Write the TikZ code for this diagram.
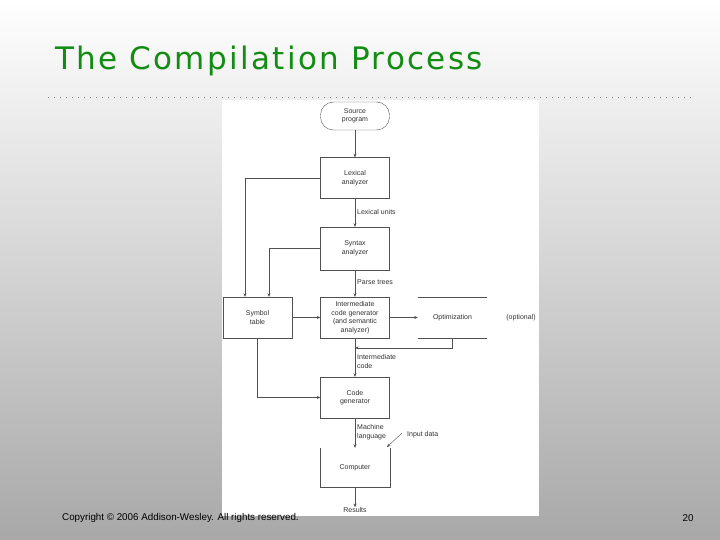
\documentclass[tikz,border=0pt]{standalone}
\usepackage{fontspec}
\setmainfont{Liberation Sans}
\newfontfamily\titlefont[LetterSpace=7.5]{DejaVu Sans}
\usetikzlibrary{calc, arrows.meta}
\definecolor{titlegreen}{RGB}{18,140,18}
\definecolor{bggray}{RGB}{168,168,168}
\definecolor{linegray}{RGB}{80,80,80}

\begin{document}
\begin{tikzpicture}[x=1pt, y=-1pt]
    \tikzstyle{stage} = [rectangle, draw=linegray, minimum width=69pt, minimum height=41pt, align=center, font=\fontsize{7}{8.5}\selectfont, text=black!80, inner sep=1pt]
    \tikzstyle{openstage} = [stage, draw=none]
    \tikzstyle{terminal} = [stage, rounded corners=13pt, minimum height=28pt]
    \tikzstyle{flow} = [draw=linegray, -{Stealth[length=3.5pt, width=3pt]}]
    \tikzstyle{tag} = [font=\fontsize{7}{8.5}\selectfont, text=black!80, align=left, inner sep=0pt]

    % Slide ----------------------------------------------
    \useasboundingbox (0,0) rectangle (720,540);
    \shade[top color=white, bottom color=bggray] (0,0) rectangle (720,540);
    \node (title) at (55,70) [anchor=base west, text=titlegreen, inner sep=0pt,
        font=\titlefont\fontsize{31}{36}\selectfont] {The Compilation Process};
    \draw[gray, line width=0.7pt, dash pattern=on 0.7pt off 5.3pt] (48,97) -- (693,97);
    \fill[white] (222,100) rectangle (539,516);
    % ---------------------------------------------------

    % Stages --------------------------------------------
    \node (src) at (355,116) [terminal] {Source\\program};
    \node (lex) at ($(src) + (0,62)$) [stage] {Lexical\\analyzer};
    \node (syn) at ($(lex) + (0,70.5)$) [stage, minimum height=43pt] {Syntax\\analyzer};
    \node (icg) at ($(syn) + (0,69)$) [stage] {Intermediate\\code generator\\(and semantic\\analyzer)};
    \node (sym) at ($(icg) + (-97.5,0)$) [stage] {Symbol\\table};
    \node (opt) at ($(icg) + (97.5,0)$) [openstage] {Optimization};
    \node (cg) at ($(icg) + (0,80)$) [stage] {Code\\generator};
    \node (comp) at ($(cg) + (0,70)$) [openstage, minimum height=39pt] {Computer};

    \draw[linegray] (opt.north west) -- (opt.north east);
    \draw[linegray] (opt.south west) -- (opt.south east);
    \draw[linegray] (comp.north west) -- (comp.south west) -- (comp.south east) -- (comp.north east);
    % ---------------------------------------------------

    % Labels --------------------------------------------
    \node (optional) at ($(opt) + (68.5,0)$) [tag] {(optional)};
    \node (results) at ($(comp) + (0,42.5)$) [tag] {Results};
    \node (lexunits) at ($(lex.south)!0.5!(syn.north) + (2,-1)$) [tag, anchor=west] {Lexical units};
    \node (ptrees) at ($(syn.south)!0.5!(icg.north) + (2,-1)$) [tag, anchor=west] {Parse trees};
    \node (icode) at ($(icg.south)!0.5!(cg.north) + (2,4)$) [tag, anchor=west] {Intermediate\\code};
    \node (mlang) at ($(cg.south)!0.5!(comp.north) + (2,-1)$) [tag, anchor=west] {Machine\\language};
    \node (input) at (407,435) [tag, anchor=west] {Input data};
    \coordinate (inputtail) at (402,433);
    \coordinate (inputhead) at (387,447);

    % Connectors
    \draw[flow] (src) -- (lex);
    \draw[flow] (lex) -- (syn);
    \draw[flow] (syn) -- (icg);
    \draw[flow] (icg) -- (cg);
    \draw[flow] (cg) -- (comp);
    \draw[flow] (comp) -- (results);
    \draw[flow] (sym) -- (icg);
    \draw[flow] (icg) -- (opt);
    \draw[flow] (opt.south) |- ($(icg.south)!0.25!(cg.north)$);
    \draw[flow] (lex.west) -| ($(sym.north) + (-12.5,0)$);
    \draw[flow] (syn.west) -| ($(sym.north) + (11.5,0)$);
    \draw[flow] (sym.south) |- (cg.west);
    \draw[flow] (inputtail) -- (inputhead);
    % ---------------------------------------------------

    % Footer
    \node (copyright) at (62,518) [anchor=west, inner sep=0pt, font=\fontsize{9.8}{11}\selectfont] {Copyright © 2006 Addison-Wesley. All rights reserved.};
    \node (pagenum) at (688,518) [inner sep=0pt, font=\fontsize{9.8}{11}\selectfont] {20};
\end{tikzpicture}
\end{document}
